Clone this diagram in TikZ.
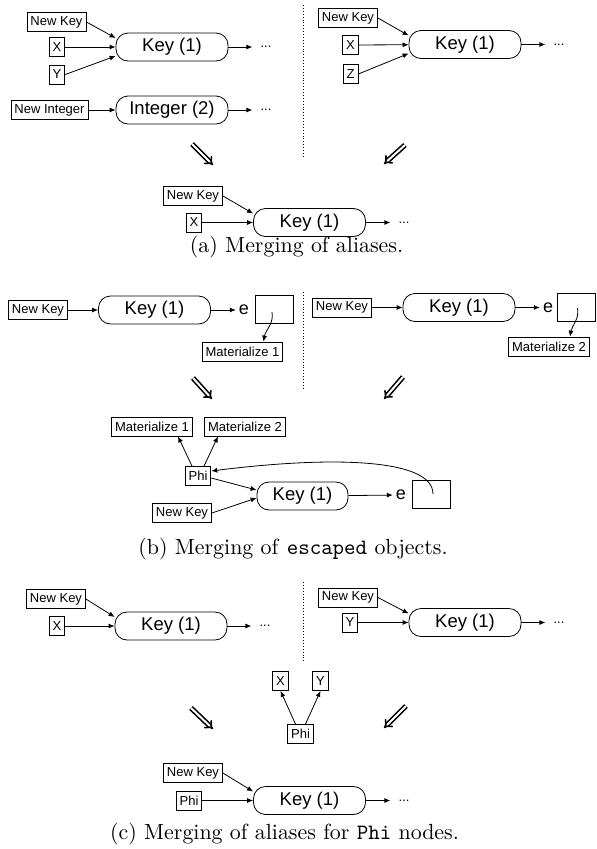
\documentclass[tikz,border=0pt]{standalone}
\usepackage{fontspec}
\newfontfamily\diagfont{Liberation Sans}
\usetikzlibrary{arrows.meta}

\begin{document}
\begin{tikzpicture}[x=1pt,y=-1pt,
		lbl/.style={draw,line width=0.8pt,inner xsep=3.5pt,inner ysep=0pt,minimum height=19pt,font=\diagfont\fontsize{13}{15}\selectfont},
		keybox/.style={draw,line width=0.8pt,rounded corners=12pt,minimum width=112pt,minimum height=28pt,inner sep=0pt,font=\diagfont\fontsize{18.5}{22}\selectfont},
		objbox/.style={draw,line width=0.8pt,minimum width=38pt,minimum height=28pt,inner sep=0pt},
		dots/.style={inner xsep=8pt,inner ysep=0pt,font=\diagfont\fontsize{13}{15}\selectfont},
		etext/.style={inner sep=3pt,font=\diagfont\fontsize{18}{22}\selectfont},
		arr/.style={line width=0.8pt,-{Latex[length=6pt,width=5pt]}},
		merge/.style={line width=1.6pt,double,double distance=2pt,-{Implies}},
		sep/.style={dotted,line width=0.9pt},
		capt/.style={anchor=base,inner sep=0pt}]
		\useasboundingbox (0,0) rectangle (597,849);
		
		\node[lbl] (nkA1) at (56.5,22) {New Key};
		\node[lbl] (xA1) at (57,47) {X};
		\node[lbl] (yA1) at (57,74.5) {Y};
		\node[keybox] (keyA1) at (172,47) {Key (1)};
		\node[dots] (dotsA1) at (266,47) {...};
		\draw[arr] (nkA1.east) -- ([yshift=9pt]keyA1.west);
		\draw[arr] (xA1) -- (keyA1);
		\draw[arr] (yA1.east) -- ([yshift=-9pt]keyA1.west);
		\draw[arr] (keyA1) -- (dotsA1);
		
		\node[lbl] (niA1) at (49.5,110) {New Integer};
		\node[keybox] (intA1) at (172,110) {Integer (2)};
		\node[dots] (dotsA2) at (266,110) {...};
		\draw[arr] (niA1) -- (intA1);
		\draw[arr] (intA1) -- (dotsA2);
		
		\draw[sep] (303,5) -- (303,157);
		
		\node[lbl] (nkA2) at (348,18) {New Key};
		\node[lbl] (xA2) at (350.5,45) {X};
		\node[lbl] (zA2) at (350.5,74) {Z};
		\node[keybox] (keyA2) at (465,44.5) {Key (1)};
		\node[dots] (dotsA3) at (559,44.5) {...};
		\draw[arr] (nkA2.east) -- ([yshift=9pt]keyA2.west);
		\draw[arr] (xA2) -- (keyA2);
		\draw[arr] (zA2.east) -- ([yshift=-9pt]keyA2.west);
		\draw[arr] (keyA2) -- (dotsA3);
		
		\draw[merge] (192,144) -- (213,165);
		\draw[merge] (405,145) -- (384,164);
		
		\node[lbl] (nkA3) at (193,196) {New Key};
		\node[lbl] (xA3) at (194,222.5) {X};
		\node[keybox] (keyA3) at (309.5,222.5) {Key (1)};
		\node[dots] (dotsA4) at (404,222.5) {...};
		\draw[arr] (nkA3.east) -- ([yshift=9pt]keyA3.west);
		\draw[arr] (xA3) -- (keyA3);
		\draw[arr] (keyA3) -- (dotsA4);
		
		\node[capt] (captA) at (296.5,252) {\scalebox{2.19}{(a) Merging of aliases.}};
		
		\node[lbl] (nkB1) at (38,310) {New Key};
		\node[keybox] (keyB1) at (154.5,310) {Key (1)};
		\node[etext] (eB1) at (244,310) {e};
		\node[objbox] (escB1) at (274,309) {};
		\node[lbl] (matB1) at (242.5,351.5) {Materialize 1};
		\draw[arr] (nkB1) -- (keyB1);
		\draw[arr] (keyB1) -- (eB1);
		\draw[arr] ([shift={(-2,3)}]escB1.center) to[out=-80,in=80] ([xshift=21pt]matB1.north);
		
		\draw[sep] (303,292) -- (303,388);
		
		\node[lbl] (nkB2) at (342,307.5) {New Key};
		\node[keybox] (keyB2) at (459,307.5) {Key (1)};
		\node[etext] (eB2) at (548,307.5) {e};
		\node[objbox] (escB2) at (576.5,307) {};
		\node[lbl] (matB2) at (549,346.5) {Materialize 2};
		\draw[arr] (nkB2) -- (keyB2);
		\draw[arr] (keyB2) -- (eB2);
		\draw[arr] ([shift={(1,1)}]escB2.center) to[out=-80,in=80] ([xshift=21pt]matB2.north);
		
		\draw[merge] (193,378) -- (212,399);
		\draw[merge] (403,377) -- (384,399);
		
		\node[lbl] (matB3) at (152,426.5) {Materialize 1};
		\node[lbl] (matB4) at (245,426.5) {Materialize 2};
		\node[lbl] (phiB) at (198,476) {Phi};
		\node[lbl] (nkB3) at (182,513) {New Key};
		\node[keybox,minimum width=91pt] (keyB3) at (302.5,496) {Key (1)};
		\node[etext] (eB3) at (401,495) {e};
		\node[objbox] (escB3) at (431,494) {};
		\draw[arr] ([xshift=-6pt]phiB.north) -- ([xshift=26pt]matB3.south);
		\draw[arr] ([xshift=6pt]phiB.north) -- ([xshift=-27pt]matB4.south);
		\draw[arr] ([yshift=-2pt]phiB.east) -- ([yshift=6pt]keyB3.west);
		\draw[arr] (nkB3.east) -- ([yshift=-2pt]keyB3.west);
		\draw[arr] (keyB3) -- (eB3);
		\draw[arr] ([xshift=2pt]escB3.center) .. controls (433,458) and (330,456) .. ([yshift=5pt]phiB.east);
		
		\node[capt] (captB) at (293,554) {\scalebox{2.19}{(b) Merging of \texttt{escaped} objects.}};
		
		\node[lbl] (nkC1) at (56,599) {New Key};
		\node[lbl] (xC1) at (57,626) {X};
		\node[keybox] (keyC1) at (171,626) {Key (1)};
		\node[dots] (dotsC1) at (265,626) {...};
		\draw[arr] (nkC1.east) -- ([yshift=9pt]keyC1.west);
		\draw[arr] (xC1) -- (keyC1);
		\draw[arr] (keyC1) -- (dotsC1);
		
		\draw[sep] (303,582) -- (303,662);
		
		\node[lbl] (nkC2) at (348,597.5) {New Key};
		\node[lbl] (yC2) at (350,622.5) {Y};
		\node[keybox] (keyC2) at (465,622.5) {Key (1)};
		\node[dots] (dotsC2) at (559,622.5) {...};
		\draw[arr] (nkC2.east) -- ([yshift=9pt]keyC2.west);
		\draw[arr] (yC2) -- (keyC2);
		\draw[arr] (keyC2) -- (dotsC2);
		
		\node[lbl] (xC3) at (280.5,681) {X};
		\node[lbl] (yC3) at (320.5,681) {Y};
		\node[lbl] (phiC1) at (300.5,734) {Phi};
		\draw[arr] ([xshift=-5pt]phiC1.north) -- (xC3.south);
		\draw[arr] ([xshift=5pt]phiC1.north) -- (yC3.south);
		
		\draw[merge] (191,708) -- (213,729);
		\draw[merge] (406,706) -- (384,728);
		
		\node[lbl] (nkC3) at (193,773) {New Key};
		\node[lbl] (phiC2) at (189,800.5) {Phi};
		\node[keybox] (keyC3) at (309.5,800.5) {Key (1)};
		\node[dots] (dotsC3) at (404,800.5) {...};
		\draw[arr] (nkC3.east) -- ([yshift=9pt]keyC3.west);
		\draw[arr] (phiC2) -- (keyC3);
		\draw[arr] (keyC3) -- (dotsC3);
		
		\node[capt] (captC) at (284.5,839) {\scalebox{2.19}{(c) Merging of aliases for \texttt{Phi} nodes.}};
	\end{tikzpicture}
\end{document}
